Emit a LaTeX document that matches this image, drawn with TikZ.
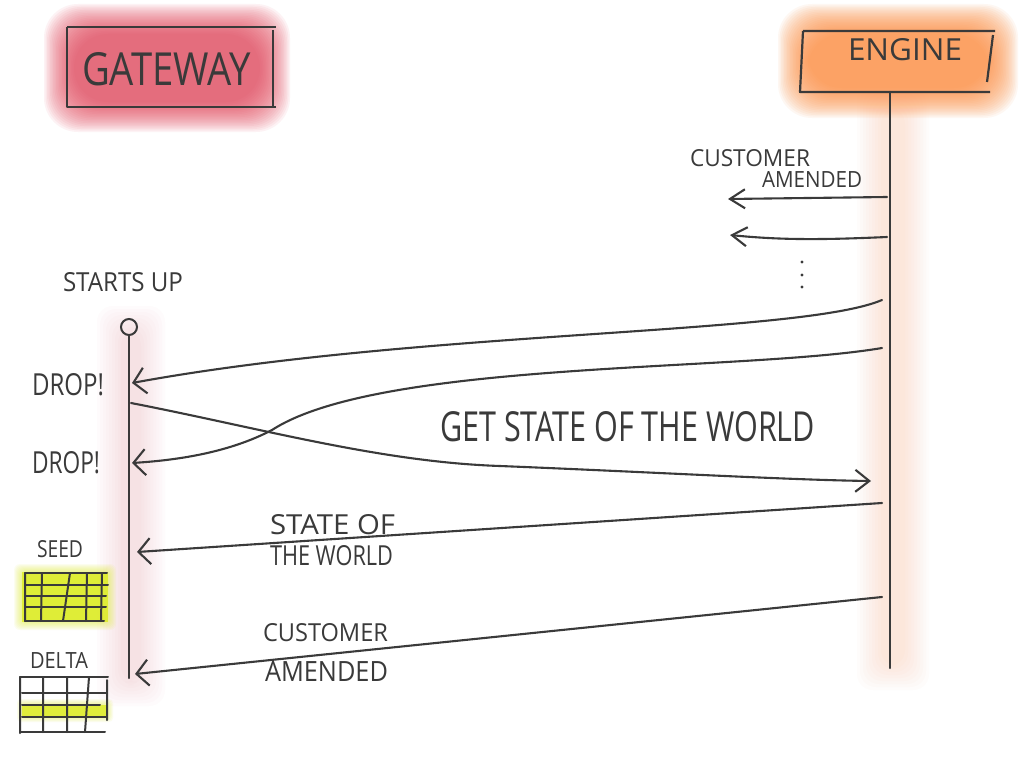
\documentclass[tikz,border=0pt]{standalone}
\usepackage{fontspec}
\setsansfont{Open Sans}
\usetikzlibrary{arrows.meta}
\definecolor{ink}{RGB}{58,58,58}
\definecolor{gwred}{RGB}{228,70,92}
\definecolor{engor}{RGB}{252,140,60}
\definecolor{lanepink}{RGB}{238,140,152}
\definecolor{laneor}{RGB}{252,165,110}
\definecolor{seedy}{RGB}{222,236,40}
\newcommand\fitText[3]{\resizebox{#1pt}{#2pt}{#3}}
\tikzset{
 lbl/.style={inner sep=0pt, outer sep=0pt, anchor=north west, text=ink, font=\sffamily},
 wire/.style={draw=ink, line width=2.1pt, line cap=round, line join=round},
 msg/.style={wire, -{Straight Barb[length=12pt,width=26pt]}},
 msgs/.style={wire, -{Straight Barb[length=15pt,width=19pt]}},
 boxline/.style={draw=ink, line width=2.2pt, line join=round},
 grid/.style={draw=ink, line width=2pt, line cap=round},
}
\begin{document}
\begin{tikzpicture}[x=1pt,y=-1pt]
\useasboundingbox[fill=white] (0,0) rectangle (1024,768);

% ---- glows ----
\foreach \d in {0,1.5,...,30}
  \fill[gwred,opacity=0.065,rounded corners=34pt] ({74-30+\d},{34-30+\d}) rectangle ({260+30-\d},{102+30-\d});
\foreach \d in {0,1.5,...,30}
  \fill[engor,opacity=0.065,rounded corners=34pt] ({808-30+\d},{34-30+\d}) rectangle ({988+30-\d},{88+30-\d});
\foreach \d in {0,3,...,24}
  \fill[laneor,opacity=0.028,rounded corners=16pt] ({893-36+\d},{84+\d}) rectangle ({893+36-\d},{690-\d});
\foreach \d in {0,3,...,24}
  \fill[lanepink,opacity=0.028,rounded corners=16pt] ({131-34+\d},{306+\d}) rectangle ({131+34-\d},{706-\d});
\foreach \d in {0,1,...,8}
  \fill[seedy,opacity=0.07,rounded corners=6pt] ({22-\d},{572-\d}) rectangle ({108+\d},{622+\d});
\fill[seedy,opacity=0.85] (22,572) rectangle (108,622);
\foreach \d in {0,1,...,5}
  \fill[seedy,opacity=0.08,rounded corners=4pt] ({22-\d},{704-\d}) rectangle ({108+\d},{717+\d});
\fill[seedy,opacity=0.85] (22,705) rectangle (108,717);

% ---- boxes ----
\draw[boxline] (67,27) -- (276,27) (273,30) -- (273,108) (276,107) -- (67,107) -- (67,27);
\node[lbl] (gw) at (82,52) {\fitText{169}{33}{GATEWAY}};
\draw[boxline] (803,31) -- (995,31) (993,35) -- (987,82) (990,92) -- (800,92) -- (803,31);
\node[lbl] (en) at (848,38) {\fitText{114}{22}{ENGINE}};

% ---- lifelines ----
\coordinate (ebot) at (890,92);
\coordinate (eend) at (890,668);
\draw[wire] (ebot) -- (eend);
\node[draw=ink, line width=2pt, circle, minimum size=16pt, inner sep=0pt] (start) at (129,327) {};
\coordinate (gend) at (129,678);
\draw[wire] (start.south) -- (gend);

% ---- message points ----
\coordinate (e1) at (887,197); \coordinate (t1) at (728,199);
\coordinate (e2) at (887,237); \coordinate (t2) at (730,235);
\coordinate (e3) at (882,300); \coordinate (g3) at (132,383);
\coordinate (e4) at (882,348); \coordinate (g4) at (132,463);
\coordinate (g5) at (131,403); \coordinate (e5) at (871,481);
\coordinate (e6) at (882,503); \coordinate (g6) at (137,552);
\coordinate (e7) at (882,597); \coordinate (g7) at (135,674);

\draw[msgs] (e1) -- (t1);
\draw[msgs] (e2) .. controls (820,240) and (780,240) .. (t2);
\draw[msg] (e3) .. controls (800,335) and (420,330) .. (g3);
\draw[msg] (e4) .. controls (740,372) and (380,360) .. (272,430) .. controls (230,452) and (180,460) .. (g4);
\draw[wire, -{Straight Barb[length=14pt,width=22pt]}] (g5) .. controls (260,428) and (380,462) .. (500,466) .. controls (650,472) and (790,480) .. (e5);
\draw[msg] (e6) -- (g6);
\draw[msg] (e7) -- (g7);

% dots
\foreach \yy [count=\i] in {262,275,287}
  \fill[ink] (802,\yy) circle (1.7pt) coordinate (dot\i);

% ---- labels ----
\node[lbl] (cu1) at (690,149) {\fitText{120}{17}{CUSTOMER}};
\node[lbl] (am1) at (762,171) {\fitText{100}{16}{AMENDED}};
\node[lbl] (su) at (63,272) {\fitText{120}{19}{STARTS UP}};
\node[lbl] (dr1) at (32,373) {\fitText{72}{22}{DROP!}};
\node[lbl] (dr2) at (32,451) {\fitText{68}{22}{DROP!}};
\node[lbl] (gs) at (440,411) {\fitText{375}{30}{GET STATE OF THE WORLD}};
\node[lbl] (so) at (270,514) {\fitText{125}{20}{STATE OF}};
\node[lbl] (tw) at (270,545) {\fitText{123}{20}{THE WORLD}};
\node[lbl] (cu2) at (263,623) {\fitText{125}{18}{CUSTOMER}};
\node[lbl] (am2) at (265,661) {\fitText{123}{20}{AMENDED}};
\node[lbl] (seed) at (37,540) {\fitText{46}{17}{SEED}};
\node[lbl] (delta) at (30,652) {\fitText{58}{16}{DELTA}};

% ---- seed table ----
\draw[grid] (25,573) -- (107,573) (25,585) -- (108,585) (25,596) -- (106,596) (25,607) -- (106,607) (25,621) -- (104,621);
\draw[grid] (25,573) -- (25,621) (42,573) -- (41,621) (70,573) -- (63,621) (87,573) -- (86,621) (102,573) -- (101,621);
% ---- delta table ----
\draw[grid] (20,677) -- (108,677) (22,693) -- (106,693) (22,705) -- (100,705) (22,717) -- (106,717) (20,732) -- (105,732);
\draw[grid] (20,677) -- (20,733) (43,677) -- (43,732) (67,677) -- (67,732) (89,677) -- (85,732) (107,680) -- (107,720);
\end{tikzpicture}
\end{document}
